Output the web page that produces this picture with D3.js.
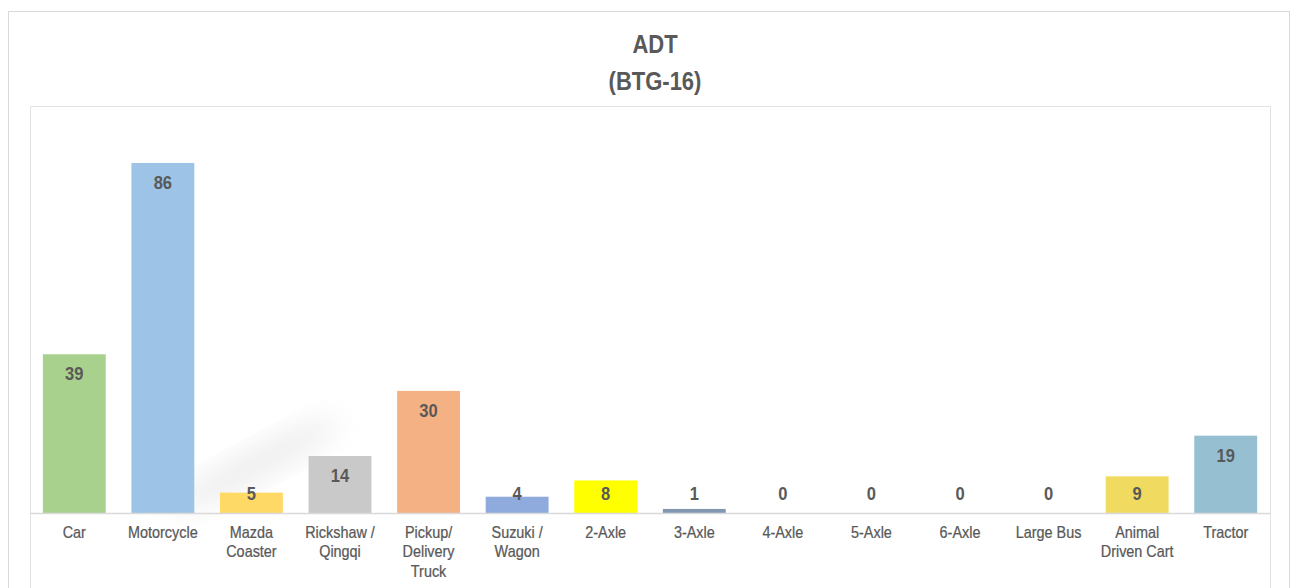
<!DOCTYPE html>
<html>
<head>
<meta charset="utf-8">
<script src="https://d3js.org/d3.v7.min.js"></script>
<style>
body { margin: 0; background: #fff; }
svg { display: block; }
text { font-family: "Liberation Sans", Arial, sans-serif; }
</style>
<title>ADT (BTG-16)</title>
</head>
<body>
<script>
var categories = ["Car", "Motorcycle", "Mazda Coaster", "Rickshaw / Qingqi", "Pickup/ Delivery Truck",
  "Suzuki / Wagon", "2-Axle", "3-Axle", "4-Axle", "5-Axle", "6-Axle", "Large Bus", "Animal Driven Cart", "Tractor"];
var values = [39, 86, 5, 14, 30, 4, 8, 1, 0, 0, 0, 0, 9, 19];
var colors = ["#a9d18e", "#9dc3e6", "#ffd966", "#c9c9c9", "#f4b183", "#8faadc", "#ffff00",
  "#8497b0", "#8497b0", "#8497b0", "#8497b0", "#8497b0", "#f0da60", "#96bfd1"];
// label lines as shown under the axis
var tickLines = [["Car"], ["Motorcycle"], ["Mazda", "Coaster"], ["Rickshaw /", "Qingqi"],
  ["Pickup/", "Delivery", "Truck"], ["Suzuki /", "Wagon"], ["2-Axle"], ["3-Axle"], ["4-Axle"],
  ["5-Axle"], ["6-Axle"], ["Large Bus"], ["Animal", "Driven Cart"], ["Tractor"]];
var titleLines = ["ADT", "(BTG-16)"];

var width = 1297, height = 588;
var plot = {left: 30, right: 1270, top: 106, bottom: 513};

var svg = d3.select("body").append("svg")
    .attr("width", width)
    .attr("height", height);

var defs = svg.append("defs");
defs.append("filter")
    .attr("id", "blur")
    .attr("x", "-50%").attr("y", "-50%")
    .attr("width", "200%").attr("height", "200%")
  .append("feGaussianBlur")
    .attr("stdDeviation", 14);

// outer chart frame
svg.append("rect")
    .attr("x", 8.5).attr("y", 11.5)
    .attr("width", 1281).attr("height", 600)
    .attr("fill", "#fff")
    .attr("stroke", "#d9d9d9");

// plot area frame
svg.append("rect")
    .attr("x", plot.left + 0.5).attr("y", plot.top + 0.5)
    .attr("width", plot.right - plot.left).attr("height", 500)
    .attr("fill", "none")
    .attr("stroke", "#e3e3e3");

// faint shadow streak behind the bars
svg.append("ellipse")
    .attr("cx", 255).attr("cy", 465)
    .attr("rx", 95).attr("ry", 14)
    .attr("transform", "rotate(-28,255,465)")
    .attr("fill", "#cfcfcf")
    .attr("opacity", 0.4)
    .attr("filter", "url(#blur)");

var x = d3.scaleBand()
    .domain(categories)
    .range([plot.left, plot.right])
    .paddingInner(0.29)
    .paddingOuter(0.145);

var y = d3.scaleLinear()
    .domain([0, 100])
    .range([plot.bottom, plot.top]);

function cx(i) { return x(categories[i]) + x.bandwidth() / 2; }

svg.append("g")
  .selectAll("rect")
  .data(values)
  .enter().append("rect")
    .attr("x", function(d, i) { return x(categories[i]); })
    .attr("y", function(d) { return y(d); })
    .attr("width", x.bandwidth())
    .attr("height", function(d) { return y(0) - y(d); })
    .attr("fill", function(d, i) { return colors[i]; });

// baseline
svg.append("line")
    .attr("x1", plot.left).attr("x2", plot.right)
    .attr("y1", y(0) + 0.5).attr("y2", y(0) + 0.5)
    .attr("stroke", "#d9d9d9")
    .attr("stroke-width", 1.5);

// value labels (narrowed a little like Arial Narrow)
svg.append("g")
  .selectAll("text")
  .data(values)
  .enter().append("text")
    .attr("transform", function(d, i) {
      var ty = Math.min(y(d) + 26, y(0) - 13);
      return "translate(" + cx(i) + "," + ty + ") scale(0.92,1)";
    })
    .attr("text-anchor", "middle")
    .attr("font-size", 18)
    .attr("font-weight", "bold")
    .attr("fill", "#595959")
    .text(function(d) { return d; });

// category labels
var ticks = svg.append("g")
  .selectAll("text")
  .data(tickLines)
  .enter().append("text")
    .attr("transform", function(d, i) { return "translate(" + cx(i) + ",538) scale(0.9,1)"; })
    .attr("text-anchor", "middle")
    .attr("font-size", 16)
    .attr("fill", "#595959")
    .attr("stroke", "#595959")
    .attr("stroke-width", 0.25);

ticks.selectAll("tspan")
  .data(function(d) { return d; })
  .enter().append("tspan")
    .attr("x", 0)
    .attr("y", function(d, i) { return i * 19.5; })
    .text(function(d) { return d; });

// title
svg.append("g")
  .selectAll("text")
  .data(titleLines)
  .enter().append("text")
    .attr("transform", function(d, i) { return "translate(655," + (53 + i * 37) + ") scale(0.88,1)"; })
    .attr("text-anchor", "middle")
    .attr("font-size", 25)
    .attr("font-weight", "bold")
    .attr("fill", "#595959")
    .text(function(d) { return d; });
</script>
</body>
</html>
